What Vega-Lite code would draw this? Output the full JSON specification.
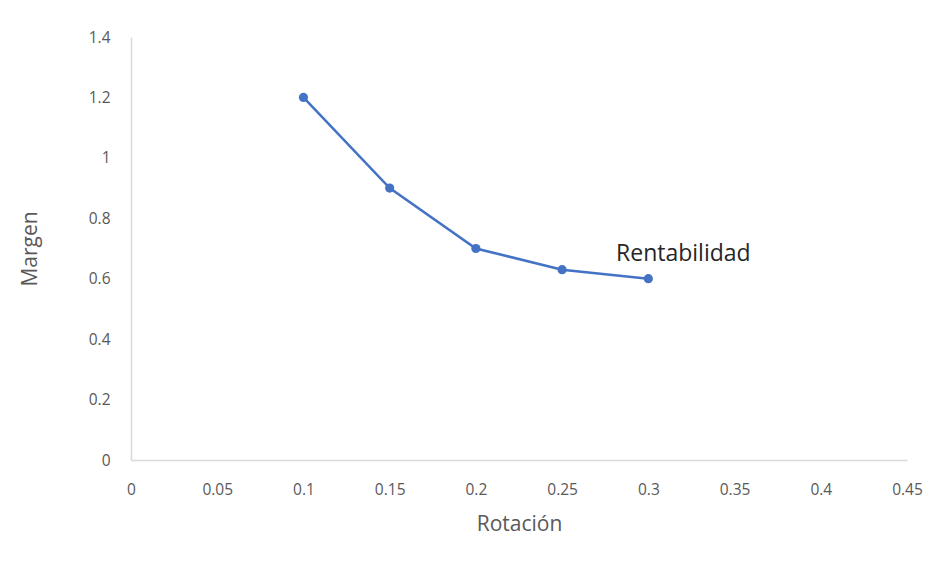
{
  "$schema": "https://vega.github.io/schema/vega-lite/v6.json",
  "autosize": "none",
  "width": 776,
  "height": 423,
  "padding": {"left": 131, "top": 37, "right": 39, "bottom": 112},
  "background": "white",
  "config": {
    "view": {"stroke": null},
    "font": "Open Sans"
  },
  "data": {
    "values": [
      {"Rotacion": 0.1, "Margen": 1.2},
      {"Rotacion": 0.15, "Margen": 0.9},
      {"Rotacion": 0.2, "Margen": 0.7},
      {"Rotacion": 0.25, "Margen": 0.63},
      {"Rotacion": 0.3, "Margen": 0.6}
    ]
  },
  "encoding": {
    "x": {
      "field": "Rotacion", "type": "quantitative",
      "scale": {"domain": [0, 0.45], "nice": false, "zero": false},
      "axis": {
        "title": "Rotación", "values": [0, 0.05, 0.1, 0.15, 0.2, 0.25, 0.3, 0.35, 0.4, 0.45],
        "labelExpr": "toString(datum.value)",
        "grid": false, "ticks": false, "domainColor": "#d9d9d9", "domainWidth": 1.5,
        "labelFont": "Open Sans", "labelFontSize": 15.5, "labelColor": "#595959", "labelPadding": 22,
        "labelFlush": false,
        "titleFont": "Open Sans", "titleFontSize": 21, "titleFontWeight": "normal", "titleColor": "#595959", "titlePadding": 16
      }
    },
    "y": {
      "field": "Margen", "type": "quantitative",
      "scale": {"domain": [0, 1.4], "nice": false},
      "axis": {
        "title": "Margen", "values": [0, 0.2, 0.4, 0.6, 0.8, 1, 1.2, 1.4],
        "labelExpr": "toString(datum.value)",
        "grid": false, "ticks": false, "domainColor": "#d9d9d9", "domainWidth": 1.5,
        "labelFont": "Open Sans", "labelFontSize": 15.5, "labelColor": "#595959", "labelPadding": 21,
        "labelFlush": false,
        "titleFont": "Open Sans", "titleFontSize": 21, "titleFontWeight": "normal", "titleColor": "#595959", "titlePadding": 48
      }
    }
  },
  "layer": [
    {"mark": {"type": "line", "color": "#4472C4", "strokeWidth": 2.5}},
    {"mark": {"type": "point", "filled": true, "color": "#4472C4", "size": 85, "opacity": 1}},
    {
      "transform": [{"filter": "datum.Rotacion == 0.3"}],
      "mark": {"type": "text", "text": "Rentabilidad", "dx": 35, "dy": -25, "align": "center", "baseline": "middle", "fontSize": 23, "color": "#262626", "font": "Open Sans"}
    }
  ]
}
